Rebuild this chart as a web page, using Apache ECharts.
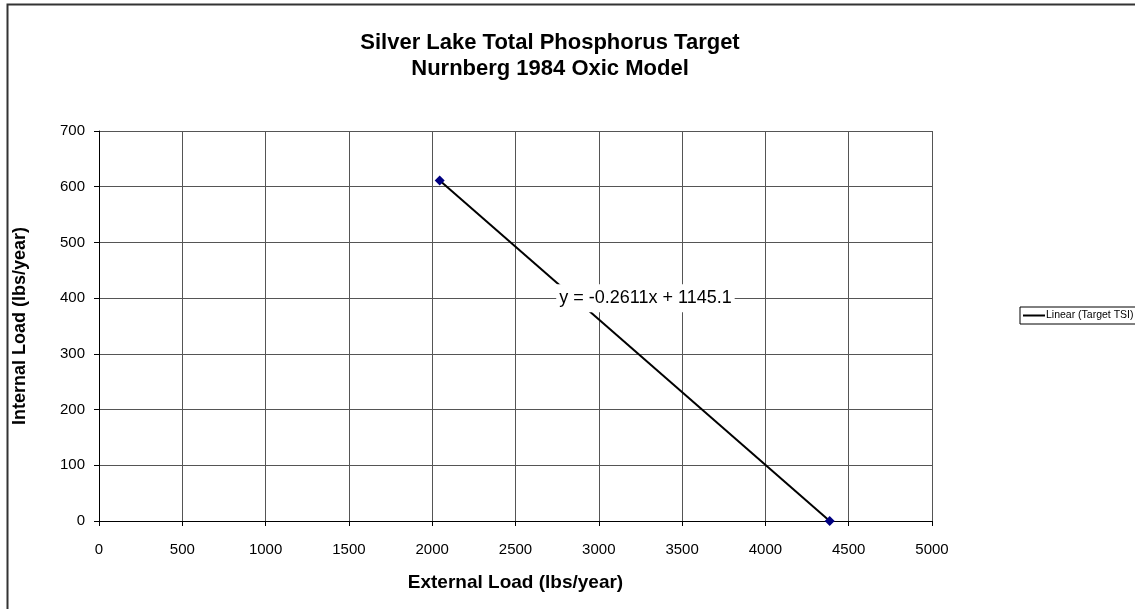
<!DOCTYPE html>
<html>
<head>
<meta charset="utf-8">
<script src="https://cdn.jsdelivr.net/npm/echarts@6/dist/echarts.min.js"></script>
<style>
  html,body{margin:0;padding:0;background:#fff;}
  #chart{width:1135px;height:609px;}
</style>
</head>
<body>
<div id="chart"></div>
<script>
// values
const externalLoad = [2045, 4386];
const internalLoad = [611, 0];
const xTicks = [0, 500, 1000, 1500, 2000, 2500, 3000, 3500, 4000, 4500, 5000];
const yTicks = [0, 100, 200, 300, 400, 500, 600, 700];
const seriesName = "Linear (Target TSI)";
const equationText = "y = -0.2611x + 1145.1";
const equationAt = [3280, 400];

const font = "'Liberation Sans', Arial, sans-serif";
const chart = echarts.init(document.getElementById("chart"));

const option = {
    animation: false,
    backgroundColor: "#fff",
    textStyle: { fontFamily: font },
    title: {
        text: "Silver Lake Total Phosphorus Target\nNurnberg 1984 Oxic Model",
        left: 545,
        top: 25,
        textAlign: "center",
        textStyle: { fontSize: 22, fontWeight: "bold", lineHeight: 26, color: "#000", fontFamily: font }
    },
    legend: {
        left: 1020,
        top: 307,
        orient: "vertical",
        borderColor: "#000",
        borderWidth: 1,
        borderRadius: 0,
        padding: [3, 6, 3, 3],
        itemGap: 0,
        itemWidth: 22,
        itemHeight: 2,
        icon: "rect",
        itemStyle: { color: "#000" },
        textStyle: { fontSize: 10.5, color: "#000", fontFamily: font, padding: [0, 0, 0, -4] },
        data: [seriesName]
    },
    grid: { left: 99, right: 203, top: 131, bottom: 88, containLabel: false },
    xAxis: {
        type: "value",
        min: xTicks[0],
        max: xTicks[xTicks.length - 1],
        interval: 500,
        name: "External Load (lbs/year)",
        nameLocation: "middle",
        nameGap: 52,
        nameTextStyle: { fontSize: 19, fontWeight: "bold", color: "#000", fontFamily: font },
        axisLine: { show: true, onZero: false, lineStyle: { color: "#000", width: 1 } },
        axisTick: { show: true, length: 5, lineStyle: { color: "#000" } },
        axisLabel: { fontSize: 15, color: "#000", margin: 21, formatter: v => String(v) },
        splitLine: { show: true, lineStyle: { color: "#555", width: 1 } }
    },
    yAxis: {
        type: "value",
        min: yTicks[0],
        max: yTicks[yTicks.length - 1],
        interval: 100,
        name: "Internal Load (lbs/year)",
        nameLocation: "middle",
        nameGap: 70,
        nameTextStyle: { fontSize: 18, fontWeight: "bold", color: "#000", fontFamily: font },
        axisLine: { show: true, onZero: false, lineStyle: { color: "#000", width: 1 } },
        axisTick: { show: true, length: 5, lineStyle: { color: "#000" } },
        axisLabel: { fontSize: 15, color: "#000", margin: 14, formatter: v => String(v) },
        splitLine: { show: true, lineStyle: { color: "#555", width: 1 } }
    },
    series: [{
        name: seriesName,
        type: "line",
        data: externalLoad.map((x, i) => [x, internalLoad[i]]),
        symbol: "diamond",
        symbolSize: 10,
        itemStyle: { color: "#000080" },
        lineStyle: { color: "#000", width: 2 },
        markPoint: {
            symbol: "rect",
            symbolSize: 1,
            itemStyle: { color: "rgba(0,0,0,0)" },
            label: {
                show: true,
                position: "inside",
                formatter: equationText,
                fontSize: 18,
                color: "#000",
                backgroundColor: "#fff",
                padding: [5, 3, 5, 3]
            },
            data: [{ coord: equationAt }]
        }
    }],
    graphic: [{
        type: "rect",
        shape: { x: 7.5, y: 4.5, width: 1200, height: 700 },
        style: { fill: null, stroke: "#333", lineWidth: 2 },
        silent: true,
        z: -1
    }]
};

chart.setOption(option);
</script>
</body>
</html>
